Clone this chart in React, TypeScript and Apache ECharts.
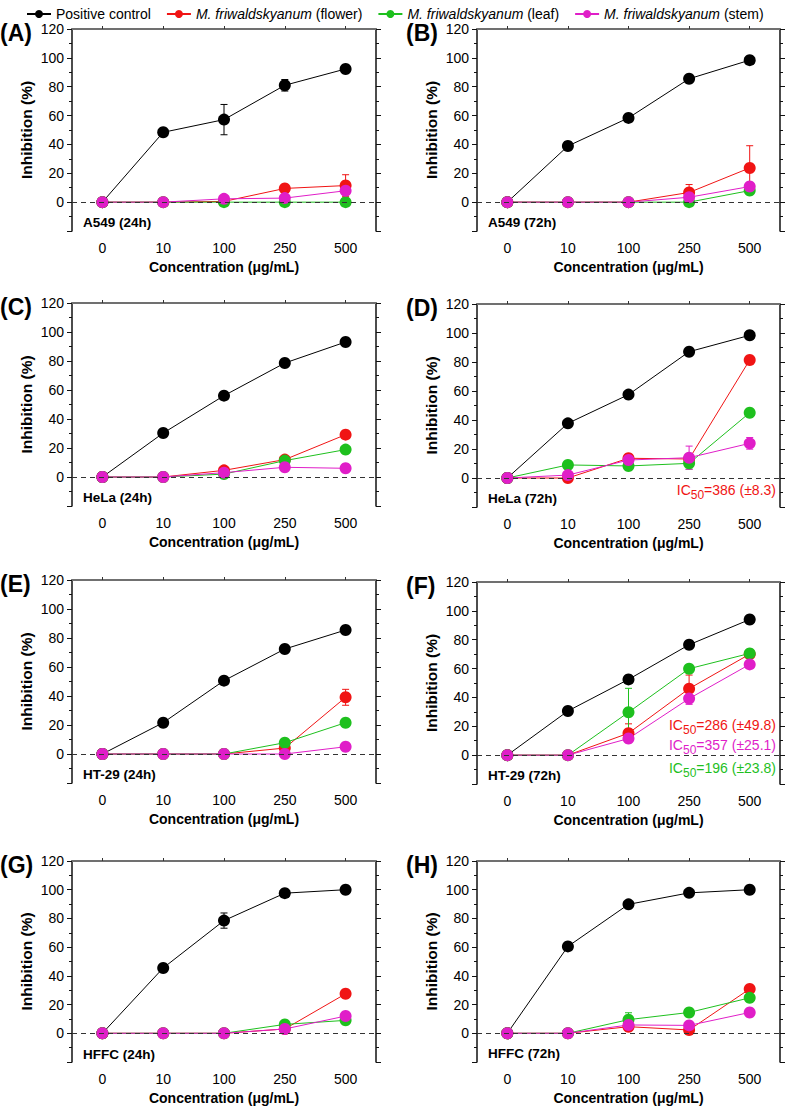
import React, { useEffect, useRef } from 'react';
import * as echarts from 'echarts';

const FONT = '"Liberation Sans", Arial, Helvetica, sans-serif';

// ---- data ----
const categories = ['0', '10', '100', '250', '500'];
const seriesNames = [
  'Positive control',
  'M. friwaldskyanum (flower)',
  'M. friwaldskyanum (leaf)',
  'M. friwaldskyanum (stem)',
];
const seriesColors = ['#000000', '#f01414', '#1ec01e', '#e01ec8'];
const panelLetters = ['(A)', '(B)', '(C)', '(D)', '(E)', '(F)', '(G)', '(H)'];
const cellLabels = [
  'A549 (24h)', 'A549 (72h)', 'HeLa (24h)', 'HeLa (72h)',
  'HT-29 (24h)', 'HT-29 (72h)', 'HFFC (24h)', 'HFFC (72h)',
];

// values per panel: positive, flower, leaf, stem
const posA = [0, 48.4, 57.2, 81, 92.3];
const flowerA = [0, 0, 0.5, 9.5, 11.5];
const leafA = [0, 0, 0, 0, 0];
const stemA = [0, 0, 2.3, 2.8, 7.9];

const posB = [0, 38.9, 58.4, 85.5, 98.4];
const flowerB = [0, 0, 0, 6.7, 23.7];
const leafB = [0, 0, 0, 0, 8];
const stemB = [0, 0, 0, 3.4, 10.8];

const posC = [0, 30.3, 56.1, 78.6, 93.1];
const flowerC = [0, 0, 4.6, 12, 29.2];
const leafC = [0, 0, 2, 11.3, 18.9];
const stemC = [0, 0, 3, 6.7, 6];

const posD = [0, 37.7, 57.5, 87.1, 98.4];
const flowerD = [0, 0, 13.6, 13.1, 81.4];
const leafD = [0, 9, 8.3, 10.1, 45];
const stemD = [0, 2, 12.4, 14, 23.9];

const posE = [0, 21.6, 50.6, 72.4, 85.5];
const flowerE = [0, 0, 0, 4.1, 39.1];
const leafE = [0, 0, 0, 7.8, 21.6];
const stemE = [0, 0, 0, 0, 5];

const posF = [0, 30.6, 52.5, 76.5, 94];
const flowerF = [0, 0, 15.2, 46.1, 70];
const leafF = [0, 0, 29.7, 59.9, 70.5];
const stemF = [0, 0, 11.5, 39.2, 62.9];

const posG = [0, 45.5, 78.5, 97.6, 100];
const flowerG = [0, 0, 0, 3, 27.5];
const leafG = [0, 0, 0, 6.2, 9];
const stemG = [0, 0, 0, 3, 12];

const posH = [0, 60.5, 89.8, 97.8, 100];
const flowerH = [0, 0, 4.6, 2.3, 30.9];
const leafH = [0, 0, 9.5, 14.5, 24.7];
const stemH = [0, 0, 5.8, 5.5, 14.5];

// error bars (SD) per panel: positive, flower, leaf, stem
const errPosA = [0, 1.5, 10.5, 4, 1.5];
const errFlowerA = [0, 0, 0, 1, 7.5];
const errLeafA = [0, 0, 0, 0, 0];
const errStemA = [0, 0, 0, 0, 1];

const errPosB = [0, 3, 1, 1, 1];
const errFlowerB = [0, 0, 0, 5.5, 15.4];
const errLeafB = [0, 0, 0, 0, 0];
const errStemB = [0, 0, 0, 1, 1];

const errPosC = [0, 1, 1, 1, 1];
const errFlowerC = [0, 0, 0, 0, 0];
const errLeafC = [0, 0, 0, 0, 0];
const errStemC = [0, 0, 0, 0, 0];

const errPosD = [0, 1, 1, 1, 1];
const errFlowerD = [0, 0, 2.5, 0, 0];
const errLeafD = [0, 0, 3, 4, 0];
const errStemD = [0, 0, 0, 8, 4];

const errPosE = [0, 1, 1, 1, 1];
const errFlowerE = [0, 0, 0, 0, 5.5];
const errLeafE = [0, 0, 0, 0, 0];
const errStemE = [0, 0, 0, 0, 0];

const errPosF = [0, 1, 1, 1, 1];
const errFlowerF = [0, 0, 6.5, 9.4, 0];
const errLeafF = [0, 0, 16.6, 0, 0];
const errStemF = [0, 0, 0, 4, 0];

const errPosG = [0, 1, 5.3, 1, 1];
const errFlowerG = [0, 0, 0, 0, 0];
const errLeafG = [0, 0, 0, 0, 0];
const errStemG = [0, 0, 0, 0, 0];

const errPosH = [0, 1, 1, 1, 1];
const errFlowerH = [0, 0, 0, 0, 0];
const errLeafH = [0, 0, 4.8, 0, 0];
const errStemH = [0, 0, 0, 0, 0];

const panelValues = [
  [posA, flowerA, leafA, stemA],
  [posB, flowerB, leafB, stemB],
  [posC, flowerC, leafC, stemC],
  [posD, flowerD, leafD, stemD],
  [posE, flowerE, leafE, stemE],
  [posF, flowerF, leafF, stemF],
  [posG, flowerG, leafG, stemG],
  [posH, flowerH, leafH, stemH],
];
const panelErrors = [
  [errPosA, errFlowerA, errLeafA, errStemA],
  [errPosB, errFlowerB, errLeafB, errStemB],
  [errPosC, errFlowerC, errLeafC, errStemC],
  [errPosD, errFlowerD, errLeafD, errStemD],
  [errPosE, errFlowerE, errLeafE, errStemE],
  [errPosF, errFlowerF, errLeafF, errStemF],
  [errPosG, errFlowerG, errLeafG, errStemG],
  [errPosH, errFlowerH, errLeafH, errStemH],
];

// IC50 annotations: panel index, series index (color), text value
const ic50Panels = [3, 5, 5, 5];
const ic50Series = [1, 1, 3, 2];
const ic50Values = ['386 (±8.3)', '286 (±49.8)', '357 (±25.1)', '196 (±23.8)'];
const ic50Offsets = [17, 59, 39, 16];

// ---- layout ----
const gridBoxes = [
  [72, 29, 304, 202],
  [477, 29, 303, 202],
  [72, 303, 304, 203],
  [477, 304, 303, 203],
  [72, 580, 304, 203],
  [477, 582, 303, 202],
  [72, 861, 304, 202],
  [477, 861, 303, 201],
];

function buildOption() {
  const grid: any[] = [];
  const xAxis: any[] = [];
  const yAxis: any[] = [];
  const series: any[] = [];
  const graphic: any[] = [];

  gridBoxes.forEach((b, p) => {
    const [l, t, w, h] = b;
    grid.push({ left: l, top: t, width: w, height: h });
    xAxis.push({
      type: 'category', gridIndex: p, data: categories, position: 'bottom', boundaryGap: true,
      axisLine: { show: false, onZero: false }, axisTick: { show: false },
      axisLabel: { fontSize: 14, color: '#000', margin: 10, fontFamily: FONT },
      splitLine: { show: false },
      name: 'Concentration (μg/mL)', nameLocation: 'middle', nameGap: 29,
      nameTextStyle: { fontWeight: 'bold', fontSize: 14, color: '#000', fontFamily: FONT },
    });
    xAxis.push({
      type: 'category', gridIndex: p, data: categories, position: 'top', boundaryGap: true,
      axisLine: { show: true, onZero: false, lineStyle: { color: '#707070', width: 2 } },
      axisTick: { show: true, alignWithLabel: true, length: 3, lineStyle: { color: '#333', width: 1 } },
      axisLabel: { show: false }, splitLine: { show: false },
    });
    const yBase = {
      type: 'value', gridIndex: p, min: -20, max: 120, interval: 20,
      axisLine: { show: true, onZero: false, lineStyle: { color: '#111', width: 1.5 } },
      axisTick: { show: true, length: 5, lineStyle: { color: '#111', width: 1 } },
      minorTick: { show: true, splitNumber: 2, length: 3, lineStyle: { color: '#111', width: 1 } },
      splitLine: { show: false }, minorSplitLine: { show: false },
    };
    yAxis.push({
      ...yBase, position: 'left',
      axisLabel: {
        fontSize: 14, color: '#000', margin: 8, fontFamily: FONT,
        formatter: (v: number) => (v < 0 ? '' : String(v)),
      },
      name: 'Inhibition (%)', nameLocation: 'middle', nameGap: 38, nameRotate: 90,
      nameTextStyle: { fontWeight: 'bold', fontSize: 15.5, color: '#000', fontFamily: FONT },
    });
    yAxis.push({ ...yBase, position: 'right', axisLabel: { show: false } });

    panelValues[p].forEach((vals, k) => {
      const color = seriesColors[k];
      const errs = panelErrors[p][k];
      const err: any = {
        type: 'custom', name: 'err' + p + '-' + k, xAxisIndex: 2 * p, yAxisIndex: 2 * p,
        data: vals.map((v, i) => [i, v, errs[i]]),
        encode: { x: 0, y: 1 },
        silent: true,
        renderItem: (params: any, api: any) => {
          const e = api.value(2);
          if (!e) return { type: 'group', children: [] };
          const i = api.value(0);
          const v = api.value(1);
          const top = api.coord([i, v + e]);
          const bot = api.coord([i, Math.max(v - e, -20)]);
          const cap = 3.5;
          const st = { stroke: color, lineWidth: 1 };
          return {
            type: 'group',
            children: [
              { type: 'line', shape: { x1: top[0], y1: top[1], x2: bot[0], y2: bot[1] }, style: st },
              { type: 'line', shape: { x1: top[0] - cap, y1: top[1], x2: top[0] + cap, y2: top[1] }, style: st },
              { type: 'line', shape: { x1: bot[0] - cap, y1: bot[1], x2: bot[0] + cap, y2: bot[1] }, style: st },
            ],
          };
        },
      };
      if (k === 0) {
        err.markLine = {
          silent: true, symbol: ['none', 'none'], label: { show: false },
          lineStyle: { type: [5, 4], color: '#333', width: 1 },
          emphasis: { disabled: true },
          data: [{ yAxis: 0 }],
        };
      }
      series.push(err);
      series.push({
        type: 'line', name: seriesNames[k], xAxisIndex: 2 * p, yAxisIndex: 2 * p,
        data: vals, symbol: 'circle', symbolSize: 12, showSymbol: true,
        lineStyle: { color, width: 1 }, itemStyle: { color },
        emphasis: { disabled: true }, silent: true,
      });
    });

    const leftCol = p % 2 === 0;
    graphic.push({
      type: 'text', x: leftCol ? 0 : 406, y: t + 4,
      style: {
        text: panelLetters[p], fontSize: 23, fontWeight: 'bold', fontFamily: FONT,
        fill: '#000', align: 'left', verticalAlign: 'middle',
      },
    });
    graphic.push({
      type: 'text', x: l + 11, y: t + h - 9,
      style: {
        text: cellLabels[p], fontSize: 13.5, fontWeight: 'bold', fontFamily: FONT,
        fill: '#000', align: 'left', verticalAlign: 'middle',
      },
    });
  });

  ic50Panels.forEach((p, j) => {
    const [l, t, w, h] = gridBoxes[p];
    const color = seriesColors[ic50Series[j]];
    graphic.push({
      type: 'text', x: l + w - 4, y: t + h - ic50Offsets[j],
      style: {
        text: '{a|IC}{s|50}{a|=' + ic50Values[j] + '}',
        align: 'right', verticalAlign: 'middle',
        rich: {
          a: { fontSize: 14, fontFamily: FONT, fill: color, color, lineHeight: 22, verticalAlign: 'middle' },
          s: { fontSize: 12, fontFamily: FONT, fill: color, color, lineHeight: 22, verticalAlign: 'bottom' },
        },
      },
    });
  });

  return {
    animation: false,
    backgroundColor: '#fff',
    textStyle: { fontFamily: FONT },
    legend: {
      top: 2, left: 21, itemGap: 15, itemWidth: 24, itemHeight: 10,
      selectedMode: false,
      data: seriesNames,
      formatter: (name: string) => name.replace('M. friwaldskyanum', '{i|M. friwaldskyanum}'),
      textStyle: {
        fontSize: 14, color: '#000', fontFamily: FONT,
        rich: { i: { fontStyle: 'italic', fontSize: 14, color: '#000', fontFamily: FONT } },
      },
    },
    grid, xAxis, yAxis, series, graphic,
  };
}

export default function App() {
  const ref = useRef<HTMLDivElement>(null);
  useEffect(() => {
    const chart = echarts.init(ref.current as HTMLDivElement, null, { renderer: 'svg' });
    chart.setOption(buildOption() as any);
    return () => chart.dispose();
  }, []);
  return (
    <div
      ref={ref}
      style={{ position: 'absolute', left: 0, top: 0, width: 789, height: 1106, background: '#fff' }}
    />
  );
}
